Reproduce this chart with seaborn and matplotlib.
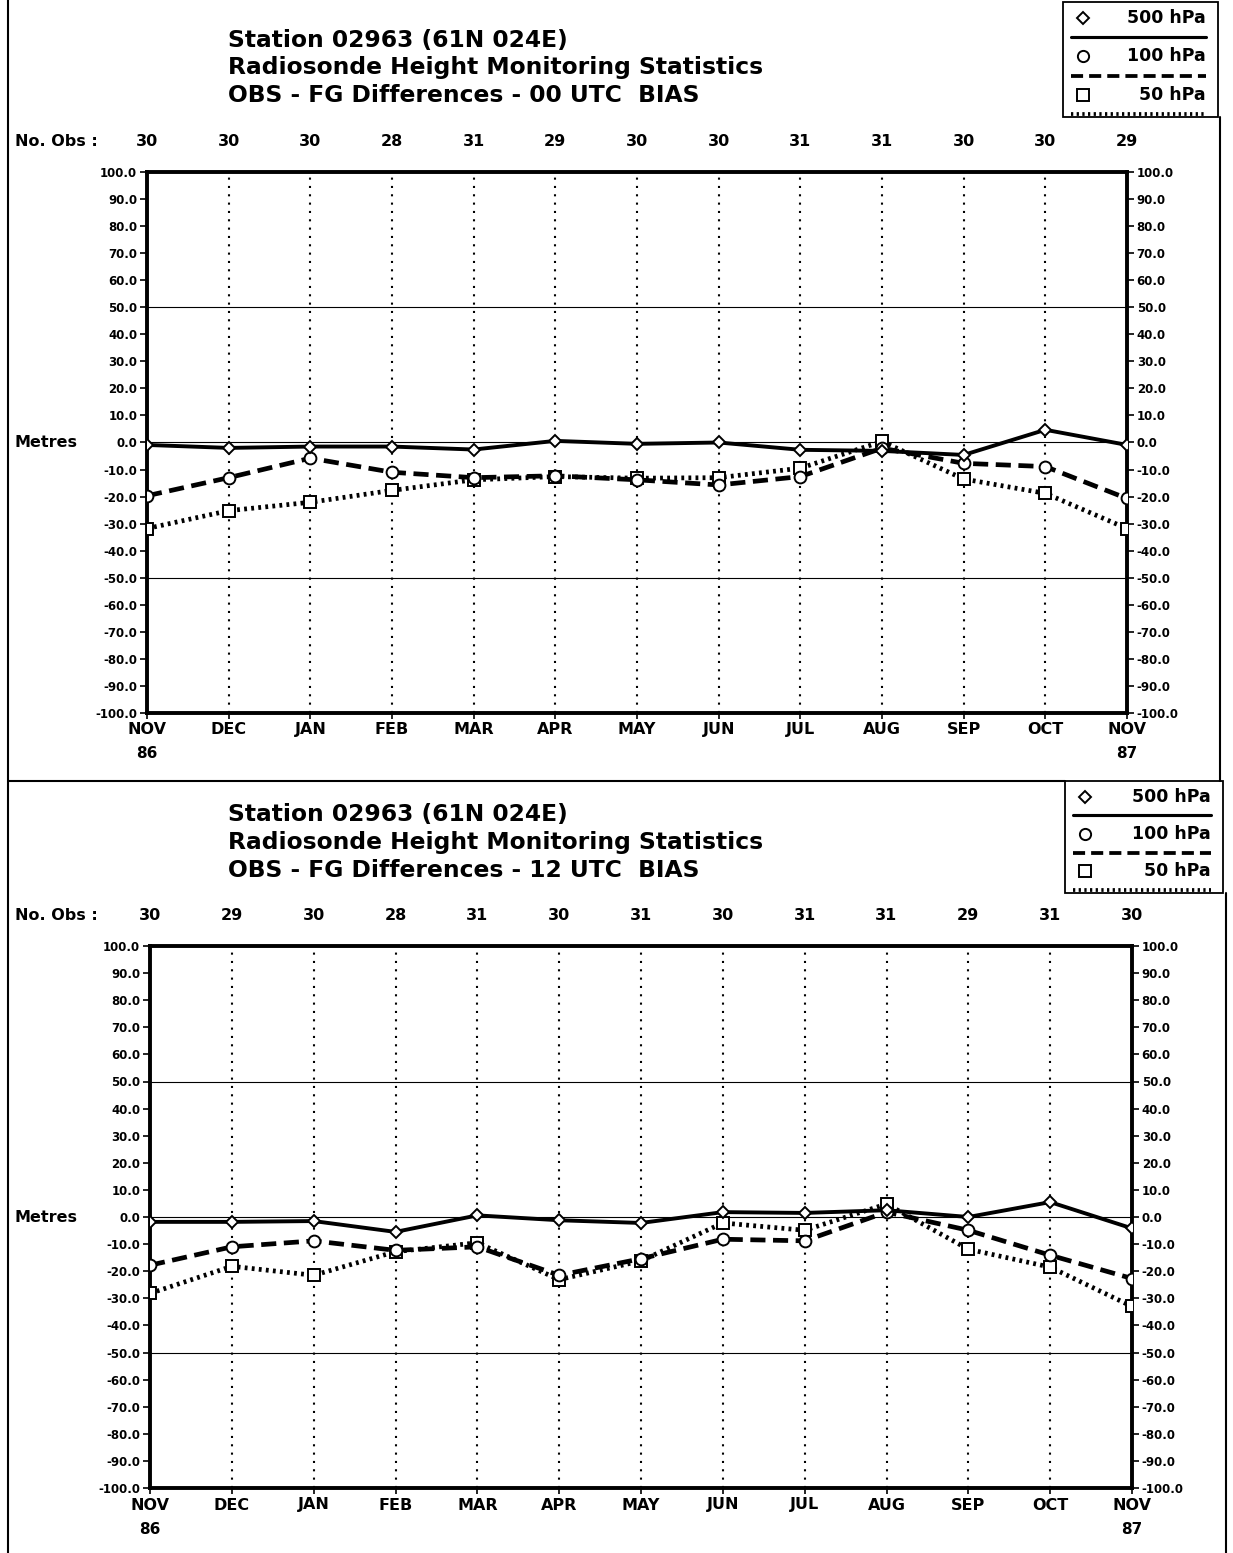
import matplotlib
matplotlib.use("Agg")
import matplotlib.pyplot as plt
from matplotlib.lines import Line2D
from matplotlib.patches import Rectangle
import seaborn as sns
import pandas as pd

sns.set_theme(style="white")
plt.rcParams['font.family'] = ['DejaVu Sans']
plt.rcParams['font.weight'] = 'bold'
plt.rcParams['text.color'] = 'black'

months = ["NOV", "DEC", "JAN", "FEB", "MAR", "APR", "MAY", "JUN", "JUL", "AUG", "SEP", "OCT", "NOV"]
years_first = "86"
years_last = "87"
y_ticks = [100, 90, 80, 70, 60, 50, 40, 30, 20, 10, 0, -10, -20, -30, -40, -50, -60, -70, -80, -90, -100]

# Panel 1: 00 UTC
nobs_00 = [30, 30, 30, 28, 31, 29, 30, 30, 31, 31, 30, 30, 29]
bias_500_00 = [-0.9, -2.0, -1.5, -1.5, -2.6, 0.6, -0.5, 0.0, -2.7, -3.1, -4.6, 4.7, -0.9]
bias_100_00 = [-19.7, -13.0, -5.8, -11.0, -13.0, -12.3, -13.8, -15.7, -12.6, -2.1, -7.7, -8.9, -20.7]
bias_50_00 = [-31.8, -25.2, -22.1, -17.7, -13.8, -12.6, -13.2, -13.0, -9.5, 0.4, -13.5, -18.8, -31.8]

# Panel 2: 12 UTC
nobs_12 = [30, 29, 30, 28, 31, 30, 31, 30, 31, 31, 29, 31, 30]
bias_500_12 = [-1.8, -1.8, -1.5, -5.5, 0.6, -1.2, -2.2, 1.8, 1.5, 2.5, 0.0, 5.5, -4.2]
bias_100_12 = [-17.8, -11.0, -8.8, -12.3, -11.0, -21.5, -15.4, -8.2, -8.8, 1.8, -4.9, -14.1, -22.7]
bias_50_12 = [-28.2, -18.2, -21.5, -12.8, -9.5, -23.1, -16.2, -2.2, -4.9, 4.8, -11.9, -18.5, -33.0]

titles_00 = ["Station 02963 (61N 024E)", "Radiosonde Height Monitoring Statistics",
             "OBS - FG Differences - 00 UTC  BIAS"]
titles_12 = ["Station 02963 (61N 024E)", "Radiosonde Height Monitoring Statistics",
             "OBS - FG Differences - 12 UTC  BIAS"]
legend_labels = ["500 hPa", "100 hPa", "50 hPa"]

W, H = 1233, 1553
fig = plt.figure(figsize=(W / 100, H / 100), dpi=100)
fig.patch.set_facecolor("white")


def fx(px):
    return px / W


def fy(py):
    return 1 - py / H


def fline(x0, y0, x1, y1, **kw):
    fig.add_artist(Line2D([fx(x0), fx(x1)], [fy(y0), fy(y1)], transform=fig.transFigure,
                          color="black", **kw))


styles = [
    dict(linestyle="-", linewidth=2.8, marker="D", markersize=6.0, zorder=5),
    dict(linestyle=(0, (3.2, 1.6)), linewidth=3.4, marker="o", markersize=8.5, zorder=4),
    dict(linestyle=(0, (0.6, 0.9)), linewidth=3.4, marker="s", markersize=8.5, zorder=3),
]


def panel(ax_rect, nobs, s500, s100, s50, titles, top, legend_box):
    ax = fig.add_axes(ax_rect)
    x = list(range(len(months)))
    df = pd.DataFrame({"x": x, "p500": s500, "p100": s100, "p50": s50})
    order = [("p50", styles[2]), ("p100", styles[1]), ("p500", styles[0])]
    for col, st in order:
        sns.lineplot(data=df, x="x", y=col, ax=ax, color="black",
                     mfc="white", mec="black", mew=1.4, dash_capstyle="butt", **st)
    ax.set_xlim(0, 12)
    ax.set_ylim(-100, 100)
    for i in range(1, 12):
        ax.axvline(i, color="black", linestyle=(0, (1, 3)), linewidth=1.5, zorder=1)
    for yv in (50, 0, -50):
        ax.axhline(yv, color="black", linewidth=0.8, zorder=1)
    for s in ax.spines.values():
        s.set_linewidth(2.8)
        s.set_color("black")
    ax.set_yticks(y_ticks)
    ax.set_yticklabels([f"{v:.1f}" for v in y_ticks], fontsize=8.5, fontweight="bold")
    ax.tick_params(axis="y", which="both", left=True, right=True, labelleft=True, labelright=True,
                   length=5, width=1.2, direction="out", pad=2, colors="black")
    ax.set_xticks(x)
    ax.set_xticklabels([""] * len(x))
    ax.tick_params(axis="x", bottom=True, length=4, width=1.2, direction="out", colors="black")
    ax.set_xlabel("")
    ax.set_ylabel("")
    ax.grid(False)

    bottom_px = (1 - ax_rect[1]) * H
    left_px = ax_rect[0] * W
    width_px = ax_rect[2] * W
    for i, m in enumerate(months):
        xp = left_px + width_px * i / 12
        fig.text(fx(xp), fy(bottom_px + 17), m, ha="center", va="center", fontsize=11.5,
                 fontweight="bold", color="black")
        fig.text(fx(xp), fy(top + 121), f"{nobs[i]}", ha="center", va="center", fontsize=11.5,
                 fontweight="bold", color="black")
    fig.text(fx(left_px), fy(bottom_px + 41), years_first, ha="center", va="center", fontsize=11,
             fontweight="bold", color="black")
    fig.text(fx(left_px + width_px), fy(bottom_px + 41), years_last, ha="center", va="center", fontsize=11,
             fontweight="bold", color="black")
    fig.text(fx(15), fy(top + 121), "No. Obs :", ha="left", va="center", fontsize=11.5,
             fontweight="bold", color="black")
    zero_px = (1 - ax_rect[1] - ax_rect[3] / 2) * H
    fig.text(fx(15), fy(zero_px), "Metres", ha="left", va="center", fontsize=11.5,
             fontweight="bold", color="black")

    for k, t in enumerate(titles):
        fig.text(fx(228), fy(top + 20 + 27.5 * k), t, ha="left", va="center", fontsize=16.8,
                 fontweight="bold", color="black")

    lx0, ly0, lx1, ly1 = legend_box
    fig.add_artist(Rectangle((fx(lx0), fy(ly1)), fx(lx1) - fx(lx0), fy(ly0) - fy(ly1),
                             transform=fig.transFigure, fill=False, edgecolor="black", linewidth=1.3))
    row_h = (ly1 - ly0) / 3
    for k, (lab, st) in enumerate(zip(legend_labels, styles)):
        yc = ly0 + row_h * k + row_h * 0.42
        fig.add_artist(Line2D([fx(lx0 + 20)], [fy(yc)], transform=fig.transFigure, linestyle="none",
                              marker=st["marker"], markersize=st["markersize"] * 0.95,
                              mfc="white", mec="black", mew=1.4))
        fig.text(fx(lx1 - 12), fy(yc), lab, ha="right", va="center", fontsize=12.5,
                 fontweight="bold", color="black")
        yl = ly0 + row_h * (k + 1) - 3
        fig.add_artist(Line2D([fx(lx0 + 8), fx(lx1 - 12)], [fy(yl), fy(yl)], transform=fig.transFigure,
                              color="black", linestyle=st["linestyle"],
                              linewidth=st["linewidth"] * 0.8))
    return ax


panel([147 / W, 1 - 713 / H, (1127 - 147) / W, (713 - 172) / H],
      nobs_00, bias_500_00, bias_100_00, bias_50_00, titles_00, top=20, legend_box=(1063, 2, 1218, 117))
panel([150 / W, 1 - 1488 / H, (1132 - 150) / W, (1488 - 946) / H],
      nobs_12, bias_500_12, bias_100_12, bias_50_12, titles_12, top=795, legend_box=(1065, 781, 1223, 893))

fline(8, 0, 8, H, linewidth=1.5)
fline(1220, 117, 1220, 781, linewidth=1.5)
fline(1226, 893, 1226, H, linewidth=1.5)
fline(8, 781, 1065, 781, linewidth=1.5)

fig.savefig("out.png", dpi=100, facecolor="white")
